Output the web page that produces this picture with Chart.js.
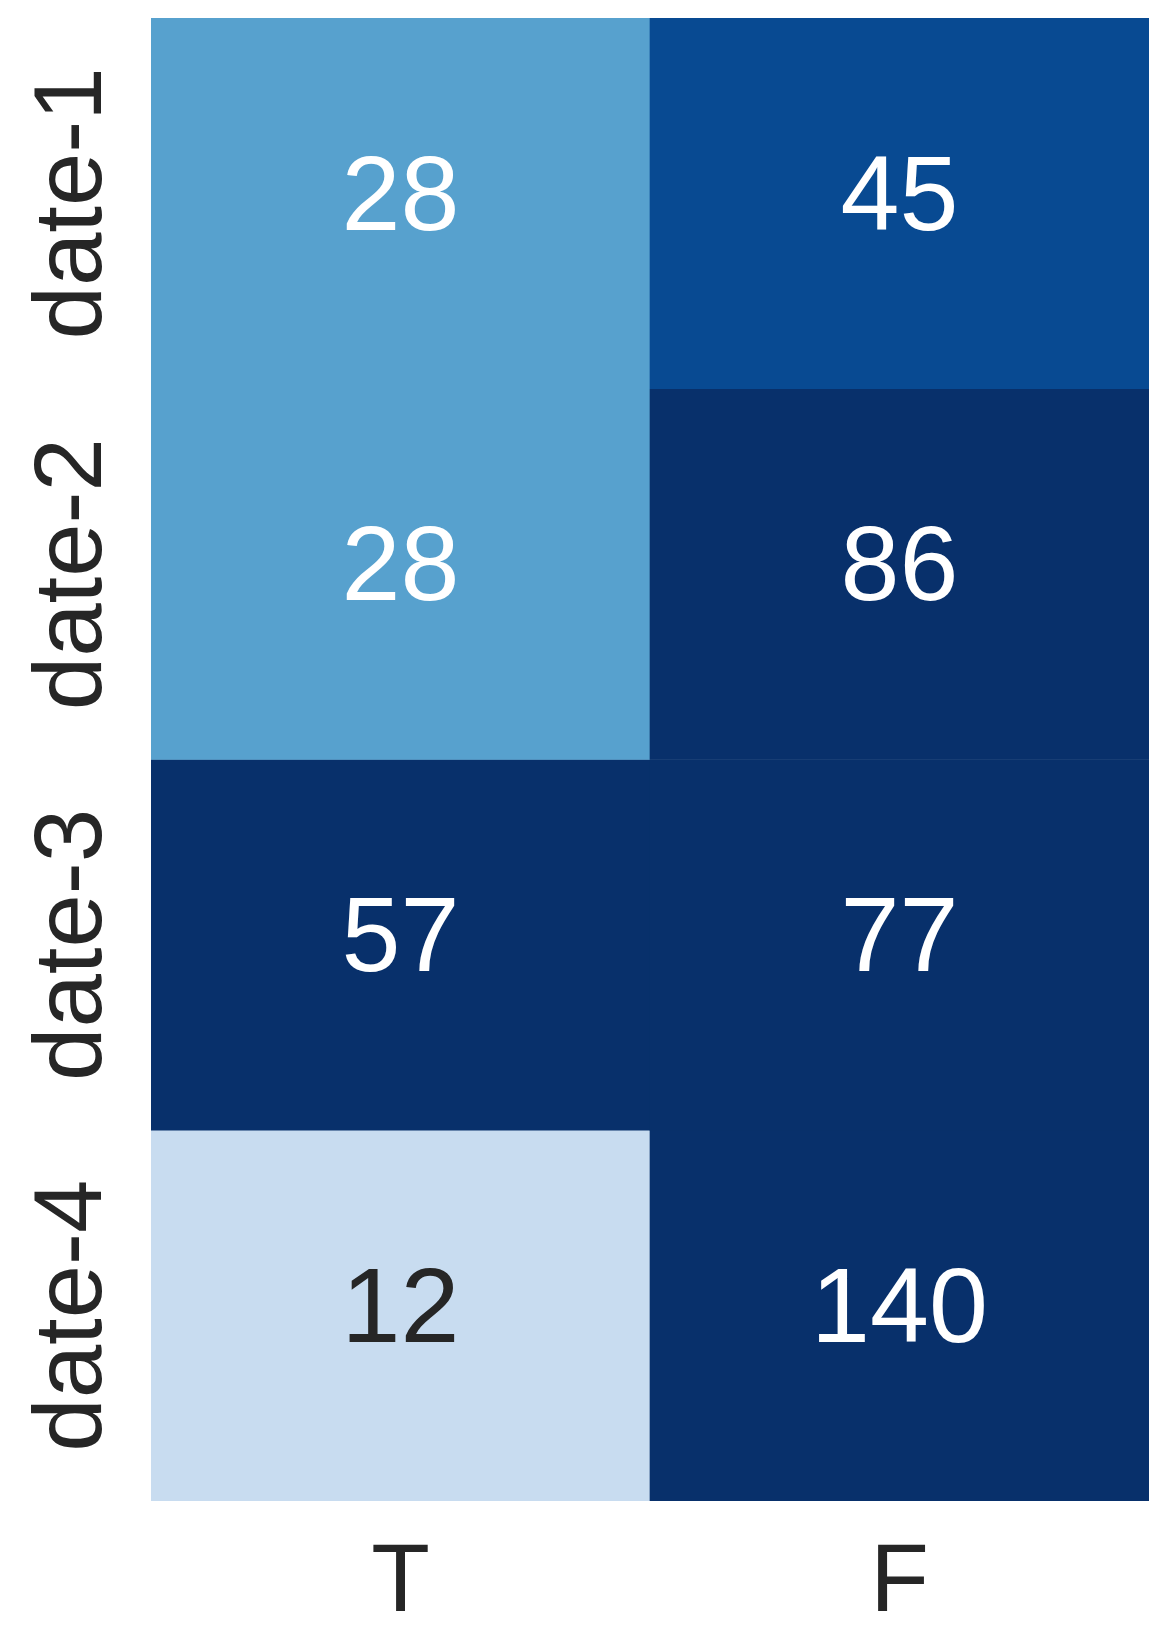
<!DOCTYPE html>
<html lang="en">
<head>
    <meta charset="UTF-8">
    <script src="https://cdn.jsdelivr.net/npm/chart.js@4"></script>
    <title>Heatmap</title>
    <style type="text/css">
        body { margin: 0; background: #ffffff; }
        #wrap { width: 1176px; height: 1640px; }
    </style>
</head>
<body>
    <div id="wrap"><canvas id="heatCanvas" width="1176" height="1640"></canvas></div>
<script>
// data
var rowLabels = ['date-1', 'date-2', 'date-3', 'date-4'];
var colLabels = ['T', 'F'];
var valuesT = [28, 28, 57, 12];
var valuesF = [45, 86, 77, 140];
var vmin = 0;
var vmax = 50;

// matplotlib "Blues" stops
var blues = ['#f7fbff', '#deebf7', '#c6dbef', '#9ecae1', '#6baed6', '#4292c6', '#2171b5', '#08519c', '#08306b'];

function hexToRgb(h) {
    return [parseInt(h.substr(1, 2), 16), parseInt(h.substr(3, 2), 16), parseInt(h.substr(5, 2), 16)];
}
function colorFor(v) {
    var t = Math.max(0, Math.min(1, (v - vmin) / (vmax - vmin)));
    var p = t * (blues.length - 1);
    var i = Math.min(Math.floor(p), blues.length - 2);
    var f = p - i;
    var a = hexToRgb(blues[i]), b = hexToRgb(blues[i + 1]);
    var c = a.map(function (x, k) { return Math.round(x + (b[k] - x) * f); });
    return 'rgb(' + c.join(',') + ')';
}
function textFor(v) {
    return (v - vmin) / (vmax - vmin) > 0.4 ? '#ffffff' : '#262626';
}

var fontFam = '"Liberation Sans", Arial, sans-serif';

// one dataset per row, floating bars from row index to row index + 1
var datasets = rowLabels.map(function (r, i) {
    var vals = [valuesT[i], valuesF[i]];
    return {
        label: r,
        data: [[i, i + 1], [i, i + 1]],
        values: vals,
        backgroundColor: vals.map(colorFor),
        borderWidth: 0,
        barPercentage: 1,
        categoryPercentage: 1,
        grouped: false
    };
});

var cellText = {
    id: 'cellText',
    afterDatasetsDraw: function (chart) {
        var ctx = chart.ctx;
        ctx.save();
        ctx.textAlign = 'center';
        ctx.textBaseline = 'middle';
        ctx.font = '106px ' + fontFam;
        chart.data.datasets.forEach(function (ds, di) {
            var meta = chart.getDatasetMeta(di);
            meta.data.forEach(function (bar, j) {
                var v = ds.values[j];
                var yc = (bar.y + bar.base) / 2;
                ctx.fillStyle = textFor(v);
                ctx.fillText(String(v), bar.x, yc - 3);
            });
        });
        // rotated row labels on the left
        var ys = chart.scales.y;
        ctx.fillStyle = '#262626';
        ctx.font = '96px ' + fontFam;
        rowLabels.forEach(function (r, i) {
            var yc = (ys.getPixelForValue(i) + ys.getPixelForValue(i + 1)) / 2;
            ctx.save();
            ctx.translate(75, yc);
            ctx.rotate(-Math.PI / 2);
            ctx.fillText(r, 0, 0);
            ctx.restore();
        });
        ctx.restore();
    }
};

var chart = new Chart(document.getElementById('heatCanvas'), {
    type: 'bar',
    data: { labels: colLabels, datasets: datasets },
    options: {
        responsive: false,
        animation: false,
        layout: { padding: { top: 18, right: 27, left: 0, bottom: 0 } },
        plugins: { legend: { display: false }, tooltip: { enabled: false } },
        scales: {
            x: {
                grid: { display: false, drawTicks: false },
                border: { display: false },
                ticks: { color: '#262626', font: { size: 96, family: fontFam }, padding: 26, maxRotation: 0 },
                afterFit: function (s) { s.height = 139; }
            },
            y: {
                min: 0,
                max: rowLabels.length,
                reverse: true,
                grid: { display: false, drawTicks: false },
                border: { display: false },
                ticks: { display: false },
                afterFit: function (s) { s.width = 151; }
            }
        }
    },
    plugins: [cellText]
});
</script>
</body>
</html>
